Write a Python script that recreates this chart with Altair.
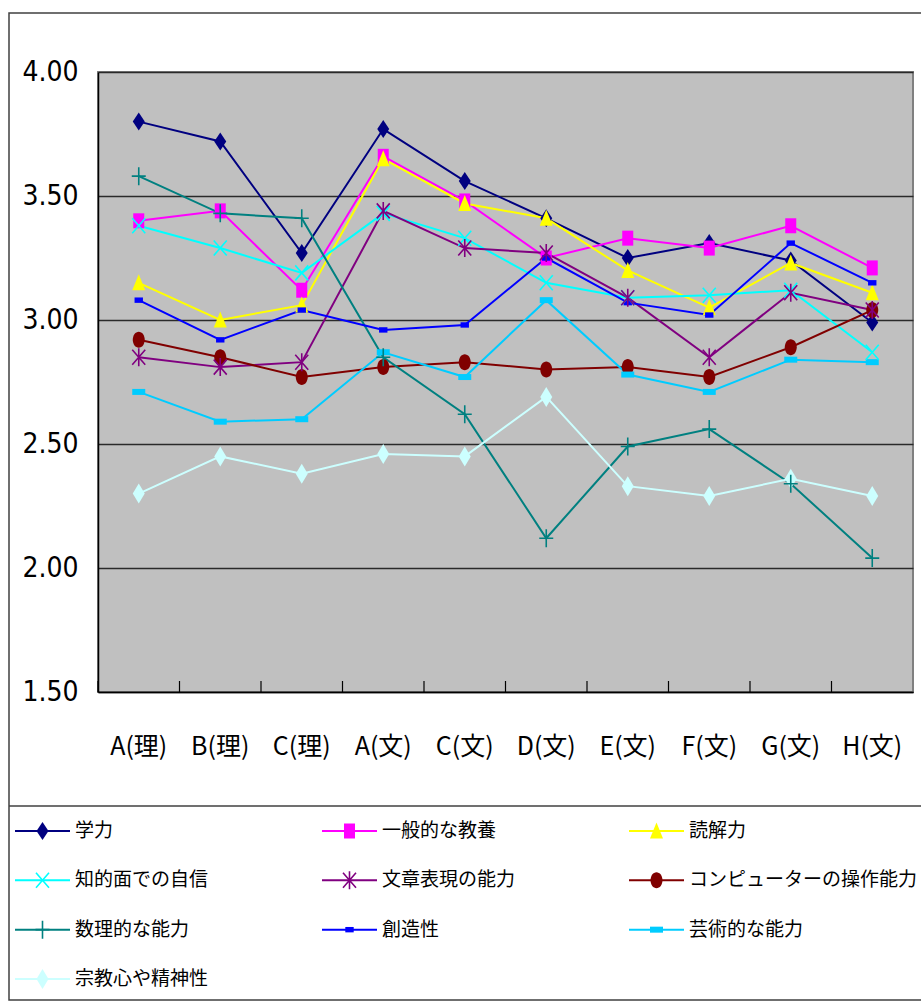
import altair as alt
import pandas as pd

categories = ["A(理)", "B(理)", "C(理)", "A(文)", "C(文)", "D(文)", "E(文)", "F(文)", "G(文)", "H(文)"]

gakuryoku = [3.80, 3.72, 3.27, 3.77, 3.56, 3.41, 3.25, 3.31, 3.24, 2.99]
kyoyo = [3.40, 3.44, 3.12, 3.66, 3.48, 3.25, 3.33, 3.29, 3.38, 3.21]
dokkai = [3.15, 3.00, 3.06, 3.65, 3.47, 3.41, 3.20, 3.05, 3.23, 3.11]
jishin = [3.38, 3.29, 3.19, 3.43, 3.33, 3.15, 3.09, 3.10, 3.12, 2.87]
bunsho = [2.85, 2.81, 2.83, 3.44, 3.29, 3.27, 3.09, 2.85, 3.11, 3.04]
computer = [2.92, 2.85, 2.77, 2.81, 2.83, 2.80, 2.81, 2.77, 2.89, 3.04]
suri = [3.58, 3.43, 3.41, 2.85, 2.62, 2.12, 2.49, 2.56, 2.34, 2.04]
sozo = [3.08, 2.92, 3.04, 2.96, 2.98, 3.25, 3.07, 3.02, 3.31, 3.15]
geijutsu = [2.71, 2.59, 2.60, 2.87, 2.77, 3.08, 2.78, 2.71, 2.84, 2.83]
shukyo = [2.30, 2.45, 2.38, 2.46, 2.45, 2.69, 2.33, 2.29, 2.36, 2.29]

series_names = ["学力", "一般的な教養", "読解力", "知的面での自信", "文章表現の能力",
                "コンピューターの操作能力", "数理的な能力", "創造性", "芸術的な能力", "宗教心や精神性"]
series_values = [gakuryoku, kyoyo, dokkai, jishin, bunsho, computer, suri, sozo, geijutsu, shukyo]
series_colors = ["#000080", "#FF00FF", "#FFFF00", "#00FFFF", "#800080",
                 "#800000", "#008080", "#0000FF", "#00CCFF", "#CCFFFF"]

# marker outlines (drawn at a fixed symbol size of 400, i.e. 1 unit = 10 px)
DIAMOND = "M0,-0.9L0.6,0L0,0.9L-0.6,0Z"
SQUARE = "M-0.55,-0.75L0.55,-0.75L0.55,0.75L-0.55,0.75Z"
TRI = "M0,-0.85L0.65,0.75L-0.65,0.75Z"
XSHAPE = "M-0.65,-0.75L0.65,0.75M0.65,-0.75L-0.65,0.75"
STAR = "M-0.65,-0.75L0.65,0.75M0.65,-0.75L-0.65,0.75M0,-0.9L0,0.9"
ELLIPSE = "M-0.6,0A0.6,0.8,0,1,0,0.6,0A0.6,0.8,0,1,0,-0.6,0Z"
PLUS = "M-0.7,0L0.7,0M0,-0.9L0,0.9"
RECT_S = "M-0.42,-0.27L0.42,-0.27L0.42,0.27L-0.42,0.27Z"
RECT_W = "M-0.65,-0.3L0.65,-0.3L0.65,0.3L-0.65,0.3Z"
DIAMOND_L = "M0,-1L0.6,0L0,1L-0.6,0Z"

series_shapes = [DIAMOND, SQUARE, TRI, XSHAPE, STAR, ELLIPSE, PLUS, RECT_S, RECT_W, DIAMOND_L]
stroked_series = ["知的面での自信", "文章表現の能力", "数理的な能力"]

rows = []
for name, vals in zip(series_names, series_values):
    for c, v in zip(categories, vals):
        rows.append({"series": name, "cat": c, "value": v})
df = pd.DataFrame(rows)

leg = pd.DataFrame({"series": series_names,
                    "col": [i % 3 for i in range(len(series_names))],
                    "row": [i // 3 for i in range(len(series_names))]})

color_scale = alt.Scale(domain=series_names, range=series_colors)
shape_scale = alt.Scale(domain=series_names, range=series_shapes)

W, H = 815, 620
NUM_FONT = "'Liberation Sans Narrow', 'DejaVu Sans Condensed', 'Liberation Sans', Arial, sans-serif"

x_enc = alt.X("cat:N", sort=categories,
              scale=alt.Scale(domain=categories, paddingInner=0, paddingOuter=0),
              axis=alt.Axis(title=None, labelAngle=0, ticks=False, grid=False,
                            labelFont="Noto Sans CJK JP", labelFontSize=25, labelColor="black",
                            labelPadding=42, domainColor="black", domainWidth=1.5))
y_enc = alt.Y("value:Q",
              scale=alt.Scale(domain=[1.5, 4.0], nice=False, zero=False),
              axis=alt.Axis(title=None, values=[1.5, 2.0, 2.5, 3.0, 3.5, 4.0], format=".2f",
                            labelFont=NUM_FONT, labelFontSize=28, labelColor="black",
                            labelPadding=20, ticks=False, grid=True, gridColor="#2a2a2a",
                            gridWidth=1.5, domainColor="black", domainWidth=1.5))

xs = alt.X("cat:N", sort=categories, scale=alt.Scale(domain=categories, paddingInner=0, paddingOuter=0))
ys = alt.Y("value:Q", scale=alt.Scale(domain=[1.5, 4.0], nice=False, zero=False))

base = alt.Chart(df)
lines = base.mark_line(strokeWidth=2).encode(
    x=x_enc, y=y_enc,
    color=alt.Color("series:N", scale=color_scale, legend=None),
    detail="series:N",
)
pts_filled = base.transform_filter(
    ~alt.FieldOneOfPredicate(field="series", oneOf=stroked_series)
).mark_point(filled=True, opacity=1, strokeWidth=0, size=400).encode(
    x=xs, y=ys,
    color=alt.Color("series:N", scale=color_scale, legend=None),
    shape=alt.Shape("series:N", scale=shape_scale, legend=None),
)
pts_stroked = base.transform_filter(
    alt.FieldOneOfPredicate(field="series", oneOf=stroked_series)
).mark_point(filled=False, opacity=1, strokeWidth=1.6, size=400).encode(
    x=xs, y=ys,
    color=alt.Color("series:N", scale=color_scale, legend=None),
    shape=alt.Shape("series:N", scale=shape_scale, legend=None),
)
ticks = alt.Chart(pd.DataFrame({"cat": categories})).mark_rule(color="black", strokeWidth=1.2).encode(
    x=alt.X("cat:N", sort=categories, bandPosition=0,
            scale=alt.Scale(domain=categories, paddingInner=0, paddingOuter=0)),
    y=alt.value(H - 11), y2=alt.value(H),
)

main = alt.layer(lines, pts_filled, pts_stroked, ticks)

# legend panel drawn from the series list
lx = alt.X("col:Q", scale=alt.Scale(domain=[0, 2], range=[15 - 98, 629 - 98]), axis=None)
ly = alt.Y("row:Q", scale=alt.Scale(domain=[0, 3], range=[831 - 72, 979 - 72]), axis=None)
lbase = alt.Chart(leg)
leg_lines = lbase.mark_point(shape="M-1,0L1,0", size=3025, filled=False, strokeWidth=2,
                             opacity=1, xOffset=27.5).encode(
    x=lx, y=ly, color=alt.Color("series:N", scale=color_scale, legend=None))
leg_filled = lbase.transform_filter(
    ~alt.FieldOneOfPredicate(field="series", oneOf=stroked_series)
).mark_point(filled=True, opacity=1, strokeWidth=0, size=400, xOffset=27.5).encode(
    x=lx, y=ly,
    color=alt.Color("series:N", scale=color_scale, legend=None),
    shape=alt.Shape("series:N", scale=shape_scale, legend=None),
)
leg_stroked = lbase.transform_filter(
    alt.FieldOneOfPredicate(field="series", oneOf=stroked_series)
).mark_point(filled=False, opacity=1, strokeWidth=1.6, size=400, xOffset=27.5).encode(
    x=lx, y=ly,
    color=alt.Color("series:N", scale=color_scale, legend=None),
    shape=alt.Shape("series:N", scale=shape_scale, legend=None),
)
leg_text = lbase.mark_text(align="left", baseline="middle", dx=60, fontSize=19,
                           font="Noto Sans CJK JP", color="black").encode(
    x=lx, y=ly, text="series:N")

legend_panel = alt.layer(leg_lines, leg_filled, leg_stroked, leg_text)

frame_df = pd.DataFrame({"k": [0]})
frame = alt.Chart(frame_df).mark_rect(fill="transparent", stroke="#404040", strokeWidth=1.5).encode(
    x=alt.value(9 - 98), x2=alt.value(940 - 98), y=alt.value(13 - 72), y2=alt.value(1000 - 72))
legend_top = alt.Chart(frame_df).mark_rule(color="#404040", strokeWidth=1.5).encode(
    x=alt.value(9 - 98), x2=alt.value(940 - 98), y=alt.value(806 - 72))

chart = alt.layer(main, legend_panel, frame, legend_top).resolve_scale(
    x="independent", y="independent"
).properties(
    width=W, height=H,
    padding={"left": 98, "top": 72, "right": 8, "bottom": 310},
    autosize=alt.AutoSizeParams(type="none"),
    background="white",
).configure_view(
    fill="#C0C0C0", stroke="#808080", strokeWidth=2
)

chart.save("out.html", embed_options={"renderer": "svg", "actions": False})
